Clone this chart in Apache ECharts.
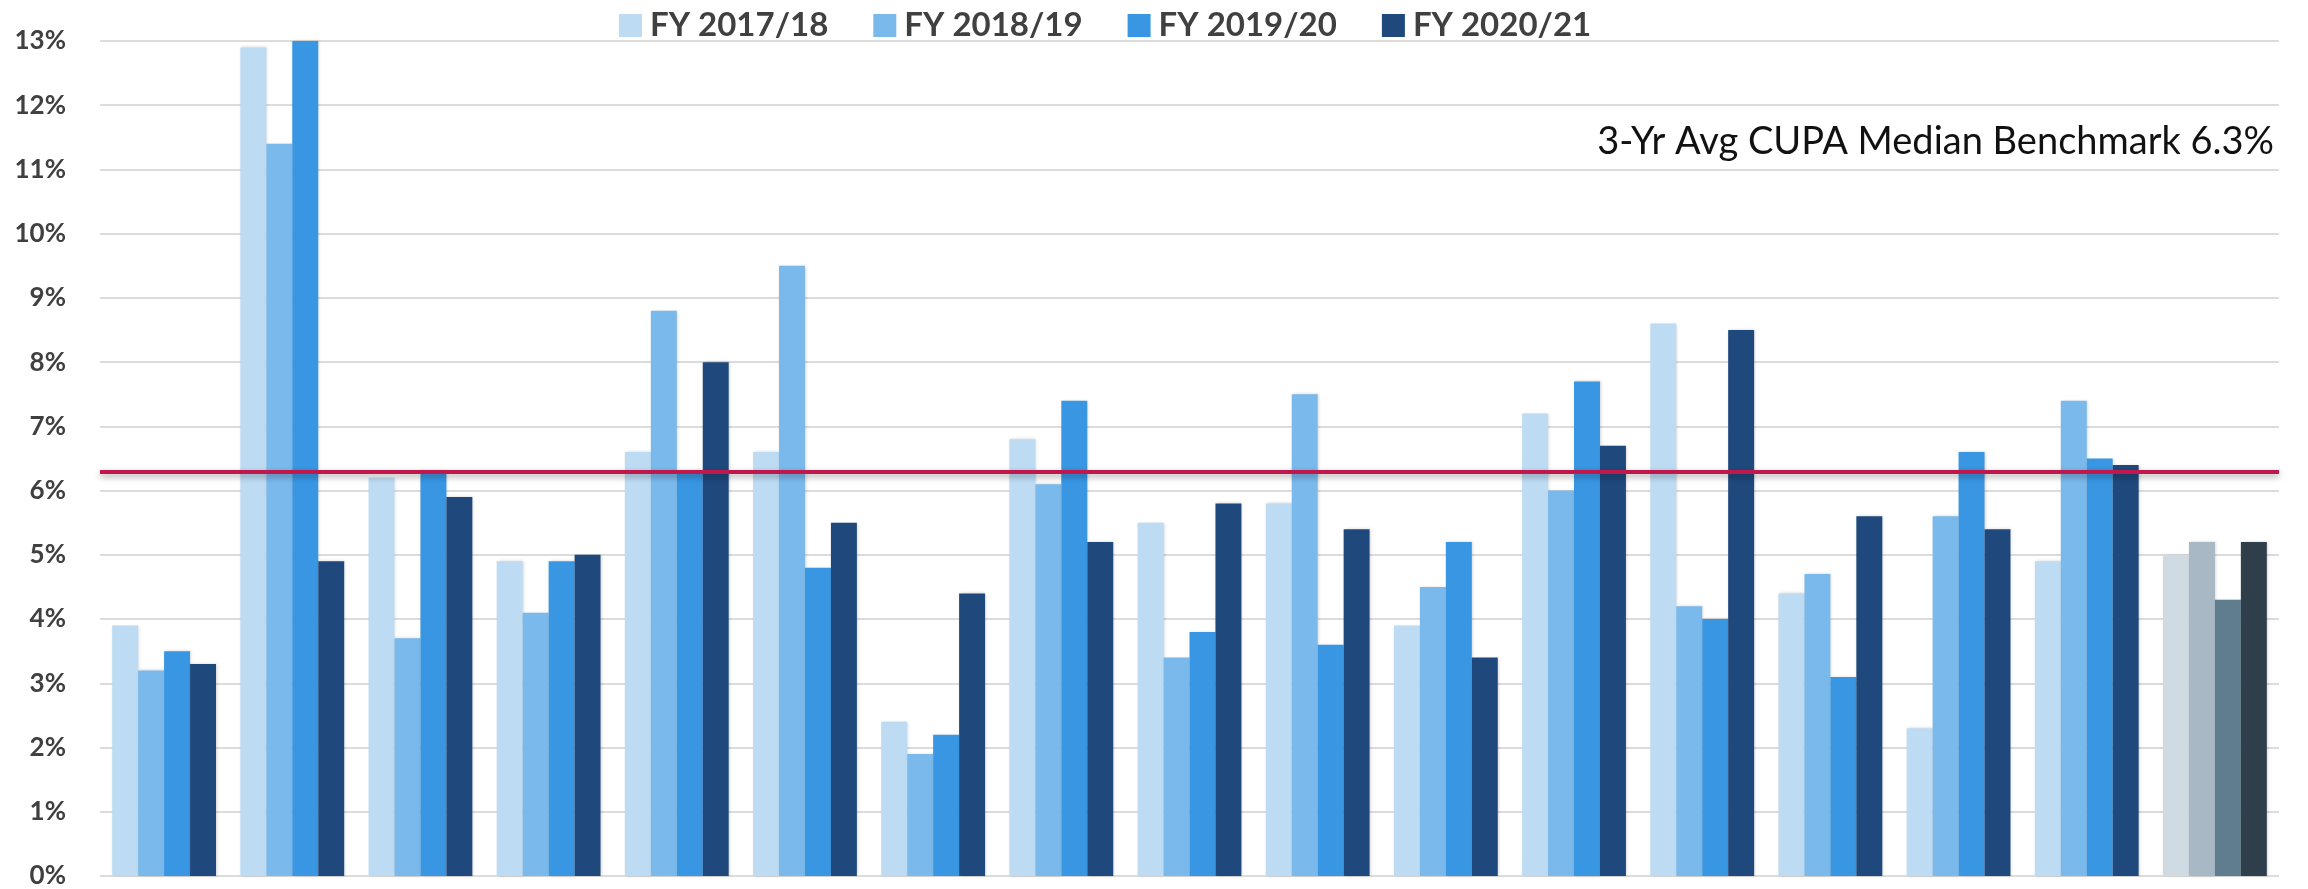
<!DOCTYPE html>
<html>
<head>
<meta charset="utf-8">
<script src="https://cdn.jsdelivr.net/npm/echarts@6/dist/echarts.min.js"></script>
<style>
  html, body { margin: 0; padding: 0; background: #ffffff; }
  #chart { width: 2308px; height: 889px; }
</style>
</head>
<body>
<div id="chart"></div>
<script>
// ---- data ----
const categories = ['G1','G2','G3','G4','G5','G6','G7','G8','G9','G10','G11','G12','G13','G14','G15','G16','Avg'];
const seriesNames = ['FY 2017/18', 'FY 2018/19', 'FY 2019/20', 'FY 2020/21'];
const fy1718 = [3.9, 12.9, 6.2, 4.9, 6.6, 6.6, 2.4, 6.8, 5.5, 5.8, 3.9, 7.2, 8.6, 4.4, 2.3, 4.9, 5.0];
const fy1819 = [3.2, 11.4, 3.7, 4.1, 8.8, 9.5, 1.9, 6.1, 3.4, 7.5, 4.5, 6.0, 4.2, 4.7, 5.6, 7.4, 5.2];
const fy1920 = [3.5, 13.0, 6.3, 4.9, 6.3, 4.8, 2.2, 7.4, 3.8, 3.6, 5.2, 7.7, 4.0, 3.1, 6.6, 6.5, 4.3];
const fy2021 = [3.3, 4.9, 5.9, 5.0, 8.0, 5.5, 4.4, 5.2, 5.8, 5.4, 3.4, 6.7, 8.5, 5.6, 5.4, 6.4, 5.2];
const benchmark = 6.3;
const benchmarkLabel = '3-Yr Avg CUPA Median Benchmark 6.3%';
const yTicks = [0, 13, 1]; // min, max, interval

// ---- styles ----
const blueColors = ['#BDDCF4', '#7AB9EC', '#3896E3', '#1F497D'];
const grayColors = ['#D0DAE2', '#A8B8C4', '#607D8F', '#2E3E4B'];
const allValues = [fy1718, fy1819, fy1920, fy2021];
const lastIdx = categories.length - 1;

const chart = echarts.init(document.getElementById('chart'), null, { renderer: 'canvas' });

const series = allValues.map((vals, si) => {
  const s = {
    name: seriesNames[si],
    type: 'bar',
    barGap: '0%',
    barCategoryGap: '19%',
    itemStyle: {
      color: blueColors[si],
      shadowColor: 'rgba(0,0,0,0.18)',
      shadowBlur: 3,
      shadowOffsetX: 1
    },
    emphasis: { disabled: true },
    data: vals.map((v, i) => i === lastIdx ? { value: v, itemStyle: { color: grayColors[si] } } : v),
    z: 2
  };
  if (si === 3) {
    s.markLine = {
      symbol: ['none', 'none'],
      silent: true,
      label: { show: false },
      lineStyle: {
        color: '#C0184C',
        width: 4,
        type: 'solid',
        shadowColor: 'rgba(0,0,0,0.35)',
        shadowBlur: 6,
        shadowOffsetY: 3
      },
      data: [{ yAxis: benchmark }],
      z: 5
    };
  }
  return s;
});

const option = {
  backgroundColor: '#ffffff',
  animation: false,
  title: {
    text: benchmarkLabel,
    right: 29,
    top: 118,
    textStyle: {
      fontFamily: 'Lato',
      fontSize: 38,
      fontWeight: 'normal',
      color: '#111111'
    }
  },
  legend: {
    data: seriesNames,
    left: 614,
    top: 4,
    itemWidth: 23,
    itemHeight: 23,
    itemGap: 45,
    icon: 'rect',
    textStyle: {
      fontFamily: 'Lato',
      fontSize: 33,
      fontWeight: 'bold',
      color: '#404040',
      padding: [0, 0, 0, 3]
    }
  },
  grid: {
    left: 100,
    right: 29,
    top: 41,
    bottom: 13,
    containLabel: false
  },
  xAxis: {
    type: 'category',
    data: categories,
    axisLine: { show: false },
    axisTick: { show: false },
    axisLabel: { show: false },
    splitLine: { show: false }
  },
  yAxis: {
    type: 'value',
    min: yTicks[0],
    max: yTicks[1],
    interval: yTicks[2],
    axisLine: { show: false },
    axisTick: { show: false },
    axisLabel: {
      formatter: '{value}%',
      fontFamily: 'Lato',
      fontSize: 26,
      fontWeight: 'bold',
      color: '#404040',
      margin: 34
    },
    splitLine: { show: true, lineStyle: { color: '#DCDCDC', width: 2 } }
  },
  series: series
};

chart.setOption(option);
</script>
</body>
</html>
